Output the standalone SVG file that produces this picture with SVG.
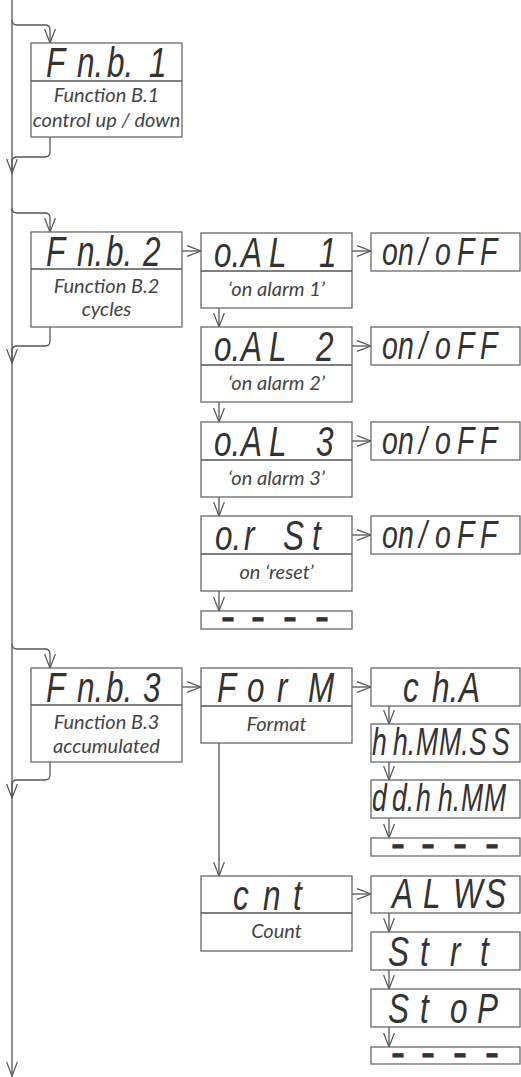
<svg xmlns="http://www.w3.org/2000/svg" width="521" height="1077" viewBox="0 0 521 1077">
<defs>
<marker id="arr" markerUnits="userSpaceOnUse" markerWidth="16" markerHeight="12" viewBox="0 0 16 12" refX="15" refY="6" orient="auto">
<path d="M1,0.6 L15,6 L1,11.4" fill="none" stroke="#555" stroke-width="1.2"/>
</marker>
</defs>
<style>
.box{fill:#fff;stroke:#6a6a6a;stroke-width:1.3}
.div{stroke:#555;stroke-width:1.5}
.seg{font-family:"Liberation Sans",Arial,sans-serif;font-style:italic;font-size:42px;fill:#333}
.seg2{font-family:"Liberation Sans",Arial,sans-serif;font-style:italic;font-size:38px;fill:#333}
.dash{font-family:"Liberation Sans",Arial,sans-serif;font-size:42px;fill:#333;stroke:#333;stroke-width:0.8}
.lbl{font-family:Lato,"Open Sans",sans-serif;font-style:italic;font-size:20px;fill:#444;text-anchor:middle}
.con{fill:none;stroke:#555;stroke-width:1.3}
</style>
<g id="connectors">
<path class="con" d="M12,0 V1076" marker-end="url(#arr)"/>
<path class="con" d="M12,20 Q12,25 17,25 H45 Q50,25 50,30 V43" marker-end="url(#arr)"/>
<path class="con" d="M50,137 V152 Q50,157 45,157 H17 Q12,157 12,162 V173" marker-end="url(#arr)"/>
<path class="con" d="M12,208 Q12,213 17,213 H45 Q50,213 50,218 V232" marker-end="url(#arr)"/>
<path class="con" d="M50,327 V341 Q50,346 45,346 H17 Q12,346 12,351 V363" marker-end="url(#arr)"/>
<path class="con" d="M12,644 Q12,649 17,649 H45 Q50,649 50,654 V668" marker-end="url(#arr)"/>
<path class="con" d="M50,762 V775 Q50,780 45,780 H17 Q12,780 12,785 V798" marker-end="url(#arr)"/>
<path class="con" d="M182,251 H201" marker-end="url(#arr)"/>
<path class="con" d="M352,251 H371" marker-end="url(#arr)"/>
<path class="con" d="M352,346 H371" marker-end="url(#arr)"/>
<path class="con" d="M352,441 H371" marker-end="url(#arr)"/>
<path class="con" d="M352,535 H371" marker-end="url(#arr)"/>
<path class="con" d="M182,687 H201" marker-end="url(#arr)"/>
<path class="con" d="M352,687 H371" marker-end="url(#arr)"/>
<path class="con" d="M352,894 H371" marker-end="url(#arr)"/>
<path class="con" d="M219,308 V327" marker-end="url(#arr)"/>
<path class="con" d="M219,402 V422" marker-end="url(#arr)"/>
<path class="con" d="M219,497 V516" marker-end="url(#arr)"/>
<path class="con" d="M219,591 V611" marker-end="url(#arr)"/>
<path class="con" d="M219,743 V876" marker-end="url(#arr)"/>
<path class="con" d="M389,706 V724" marker-end="url(#arr)"/>
<path class="con" d="M389,762 V780" marker-end="url(#arr)"/>
<path class="con" d="M389,818 V838" marker-end="url(#arr)"/>
<path class="con" d="M389,913 V932" marker-end="url(#arr)"/>
<path class="con" d="M389,970 V989" marker-end="url(#arr)"/>
<path class="con" d="M389,1027 V1047" marker-end="url(#arr)"/>
</g>
<g id="fnb1">
<rect class="box" x="31" y="43" width="151" height="94"/>
<line class="div" x1="31" y1="81" x2="182" y2="81"/>
<text class="seg" transform="scale(0.75,1)" y="77"><tspan x="61.33">F</tspan><tspan x="102.67">n.</tspan><tspan x="142.67">b.</tspan><tspan x="198.67">1</tspan></text>
<text class="lbl" x="106.5" y="102">Function B.1</text>
<text class="lbl" x="106.5" y="127">control up / down</text>
</g>
<g id="fnb2">
<rect class="box" x="31" y="232" width="151" height="95"/>
<line class="div" x1="31" y1="269" x2="182" y2="269"/>
<text class="seg" transform="scale(0.75,1)" y="266"><tspan x="61.33">F</tspan><tspan x="102.67">n.</tspan><tspan x="141.33">b.</tspan><tspan x="190.67">2</tspan></text>
<text class="lbl" x="106.5" y="293">Function B.2</text>
<text class="lbl" x="106.5" y="316">cycles</text>
</g>
<g id="oal1">
<rect class="box" x="201" y="233" width="151" height="75"/>
<line class="div" x1="201" y1="271" x2="352" y2="271"/>
<text class="seg" transform="scale(0.75,1)" y="267"><tspan x="285.33">o.</tspan><tspan x="321.33">A</tspan><tspan x="358.67">L</tspan><tspan x="425.33">1</tspan></text>
<text class="lbl" x="276.5" y="295.5">‘on alarm 1’</text>
</g>
<g id="onoff1">
<rect class="box" x="371" y="233" width="149" height="38"/>
<text class="seg2" transform="scale(0.75,1)" y="265"><tspan x="509.33">o</tspan><tspan x="530.67">n</tspan><tspan x="558.67">/</tspan><tspan x="580">o</tspan><tspan x="609.33">F</tspan><tspan x="640">F</tspan></text>
</g>
<g id="oal2">
<rect class="box" x="201" y="327" width="151" height="75"/>
<line class="div" x1="201" y1="365" x2="352" y2="365"/>
<text class="seg" transform="scale(0.75,1)" y="361"><tspan x="285.33">o.</tspan><tspan x="321.33">A</tspan><tspan x="358.67">L</tspan><tspan x="421.33">2</tspan></text>
<text class="lbl" x="276.5" y="389.5">‘on alarm 2’</text>
</g>
<g id="onoff2">
<rect class="box" x="371" y="327" width="149" height="38"/>
<text class="seg2" transform="scale(0.75,1)" y="359"><tspan x="509.33">o</tspan><tspan x="530.67">n</tspan><tspan x="558.67">/</tspan><tspan x="580">o</tspan><tspan x="609.33">F</tspan><tspan x="640">F</tspan></text>
</g>
<g id="oal3">
<rect class="box" x="201" y="422" width="151" height="75"/>
<line class="div" x1="201" y1="460" x2="352" y2="460"/>
<text class="seg" transform="scale(0.75,1)" y="456"><tspan x="285.33">o.</tspan><tspan x="321.33">A</tspan><tspan x="358.67">L</tspan><tspan x="421.33">3</tspan></text>
<text class="lbl" x="276.5" y="484.5">‘on alarm 3’</text>
</g>
<g id="onoff3">
<rect class="box" x="371" y="422" width="149" height="38"/>
<text class="seg2" transform="scale(0.75,1)" y="454"><tspan x="509.33">o</tspan><tspan x="530.67">n</tspan><tspan x="558.67">/</tspan><tspan x="580">o</tspan><tspan x="609.33">F</tspan><tspan x="640">F</tspan></text>
</g>
<g id="orst">
<rect class="box" x="201" y="516" width="151" height="75"/>
<line class="div" x1="201" y1="554" x2="352" y2="554"/>
<text class="seg" transform="scale(0.75,1)" y="550"><tspan x="286.67">o.</tspan><tspan x="325.33">r</tspan><tspan x="377.33">S</tspan><tspan x="416">t</tspan></text>
<text class="lbl" x="276.5" y="578.5">on ‘reset’</text>
</g>
<g id="onoff4">
<rect class="box" x="371" y="516" width="149" height="38"/>
<text class="seg2" transform="scale(0.75,1)" y="548"><tspan x="509.33">o</tspan><tspan x="530.67">n</tspan><tspan x="558.67">/</tspan><tspan x="580">o</tspan><tspan x="609.33">F</tspan><tspan x="640">F</tspan></text>
</g>
<g id="end1">
<rect class="box" x="201" y="611" width="151" height="18"/>
<text class="dash" y="631"><tspan x="221">-</tspan><tspan x="251">-</tspan><tspan x="283">-</tspan><tspan x="315">-</tspan></text>
</g>
<g id="fnb3">
<rect class="box" x="31" y="668" width="151" height="94"/>
<line class="div" x1="31" y1="705" x2="182" y2="705"/>
<text class="seg" transform="scale(0.75,1)" y="702"><tspan x="61.33">F</tspan><tspan x="102.67">n.</tspan><tspan x="141.33">b.</tspan><tspan x="190.67">3</tspan></text>
<text class="lbl" x="106.5" y="729">Function B.3</text>
<text class="lbl" x="106.5" y="753">accumulated</text>
</g>
<g id="form">
<rect class="box" x="201" y="668" width="151" height="75"/>
<line class="div" x1="201" y1="706" x2="352" y2="706"/>
<text class="seg" transform="scale(0.75,1)" y="702"><tspan x="289.33">F</tspan><tspan x="329.33">o</tspan><tspan x="369.33">r</tspan><tspan x="410.67">M</tspan></text>
<text class="lbl" x="276.5" y="731">Format</text>
</g>
<g id="cha">
<rect class="box" x="371" y="668" width="149" height="38"/>
<text class="seg" transform="scale(0.75,1)" y="702"><tspan x="537.33">c</tspan><tspan x="576">h.</tspan><tspan x="612">A</tspan></text>
</g>
<g id="hhmmss">
<rect class="box" x="371" y="724" width="149" height="38"/>
<text class="seg2" transform="scale(0.7,1)" y="755"><tspan x="531.43">h</tspan><tspan x="561.43">h.</tspan><tspan x="594.29">M</tspan><tspan x="627.14">M.</tspan><tspan x="670">S</tspan><tspan x="702.86">S</tspan></text>
</g>
<g id="ddhhmm">
<rect class="box" x="371" y="780" width="149" height="38"/>
<text class="seg2" transform="scale(0.7,1)" y="811"><tspan x="531.43">d</tspan><tspan x="560">d.</tspan><tspan x="594.29">h</tspan><tspan x="625.71">h.</tspan><tspan x="658.57">M</tspan><tspan x="691.43">M</tspan></text>
</g>
<g id="end2">
<rect class="box" x="371" y="838" width="149" height="18"/>
<text class="dash" y="858"><tspan x="391">-</tspan><tspan x="421">-</tspan><tspan x="453">-</tspan><tspan x="485">-</tspan></text>
</g>
<g id="cnt">
<rect class="box" x="201" y="876" width="151" height="75"/>
<line class="div" x1="201" y1="913" x2="352" y2="913"/>
<text class="seg" transform="scale(0.75,1)" y="910"><tspan x="310.67">c</tspan><tspan x="350.67">n</tspan><tspan x="390.67">t</tspan></text>
<text class="lbl" x="276.5" y="938">Count</text>
</g>
<g id="alws">
<rect class="box" x="371" y="876" width="149" height="37"/>
<text class="seg" transform="scale(0.75,1)" y="908"><tspan x="522.67">A</tspan><tspan x="564">L</tspan><tspan x="604">W</tspan><tspan x="646.67">S</tspan></text>
</g>
<g id="strt">
<rect class="box" x="371" y="932" width="149" height="38"/>
<text class="seg" transform="scale(0.75,1)" y="966"><tspan x="517.33">S</tspan><tspan x="560">t</tspan><tspan x="600">r</tspan><tspan x="640">t</tspan></text>
</g>
<g id="stop">
<rect class="box" x="371" y="989" width="149" height="38"/>
<text class="seg" transform="scale(0.75,1)" y="1023"><tspan x="517.33">S</tspan><tspan x="560">t</tspan><tspan x="600">o</tspan><tspan x="636">P</tspan></text>
</g>
<g id="end3">
<rect class="box" x="371" y="1047" width="149" height="17"/>
<text class="dash" y="1066.5"><tspan x="391">-</tspan><tspan x="421">-</tspan><tspan x="453">-</tspan><tspan x="485">-</tspan></text>
</g>
</svg>
